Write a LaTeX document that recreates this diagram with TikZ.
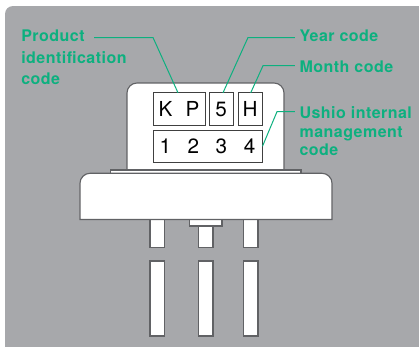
\documentclass[tikz,border=0pt]{standalone}
\usepackage{fontspec}
\setmainfont{TeX Gyre Heros}
\newfontfamily\labfont[LetterSpace=3]{TeX Gyre Heros}
\definecolor{panel}{HTML}{A7A8AB}
\definecolor{edge}{HTML}{616265}
\definecolor{lab}{HTML}{0DB07F}
\tikzset{
  part/.style={draw=edge,fill=white,line width=0.85pt},
  codebox/.style={draw=black!75,fill=white,line width=0.7pt,minimum height=24.75pt,inner sep=0pt,font=\fontsize{15.5}{16}\selectfont,text=black},
  lead/.style={draw=lab,line width=0.75pt},
  lbl/.style={text=lab,align=left,anchor=north west,inner sep=0pt}
}
\newcommand{\wideset}{\labfont\bfseries\fontsize{12}{15.9}\selectfont}
\newcommand{\tightset}{\labfont\bfseries\fontsize{12}{14}\selectfont}
\begin{document}
\begin{tikzpicture}[x=0.75pt,y=-0.75pt]
\useasboundingbox (0,0) rectangle (419,347);
\fill[white] (0,0) rectangle (419,347);
\fill[panel] (5,347) [rounded corners=6pt] -- (5,6) [sharp corners] -- (419,6) -- (419,347) -- cycle;
% pins
\foreach \x in {150,198.5,243.5}{
  \draw[part] (\x,215) rectangle (\x+14.5,247.3);
  \draw[part] (\x,261) rectangle (\x+14.5,336);
}
\draw[part] (189.5,215) rectangle (222,226);
% can
\draw[part] (127,172) [rounded corners=7.5pt] -- (127,83) -- (284,83) [sharp corners] -- (284,172);
\draw[part] (110.5,170) rectangle (301,176);
\draw[part] (80,219.5) [rounded corners=7.5pt] -- (80,173.3) -- (332,173.3) [sharp corners] -- (332,219.5) -- cycle;
% code boxes
\node[codebox,minimum width=39pt] (kp) at (179,109.4) {K\hspace{10pt}P};
\node[codebox,minimum width=18pt] (five) at (221,109.4) {5};
\node[codebox,minimum width=18pt] (h) at (250,109.4) {H};
\node[codebox,minimum width=81.75pt,minimum height=23.5pt] (num) at (207.5,146.3) {1\hspace{12.4pt}2\hspace{12.4pt}3\hspace{12.4pt}4};
% labels
\node[lbl,font=\wideset] (tprod) at (21,30) {Product\\identification\\code};
\node[lbl,font=\wideset] (tyear) at (299.3,30) {Year code};
\node[lbl,font=\wideset] (tmonth) at (299.3,61) {Month code};
\node[lbl,font=\tightset] (tushio) at (299.3,106.3) {Ushio internal\\management\\code};
% leaders
\coordinate (a1) at (94,37.5);
\coordinate (a2) at (153,37.5);
\coordinate (a3) at (178,92.8);
\draw[lead] (a1) -- (a2) -- (a3);
\coordinate (b1) at (295,37.5);
\coordinate (b2) at (248,37.5);
\coordinate (b3) at (223,92.8);
\draw[lead] (b1) -- (b2) -- (b3);
\coordinate (c1) at (295,65.7);
\coordinate (c2) at (263,65.7);
\coordinate (c3) at (250.7,92.8);
\draw[lead] (c1) -- (c2) -- (c3);
\coordinate (d1) at (295,111.7);
\coordinate (d2) at (277,111.7);
\draw[lead] (d1) -- (d2) -- (num.east);
\end{tikzpicture}
\end{document}
